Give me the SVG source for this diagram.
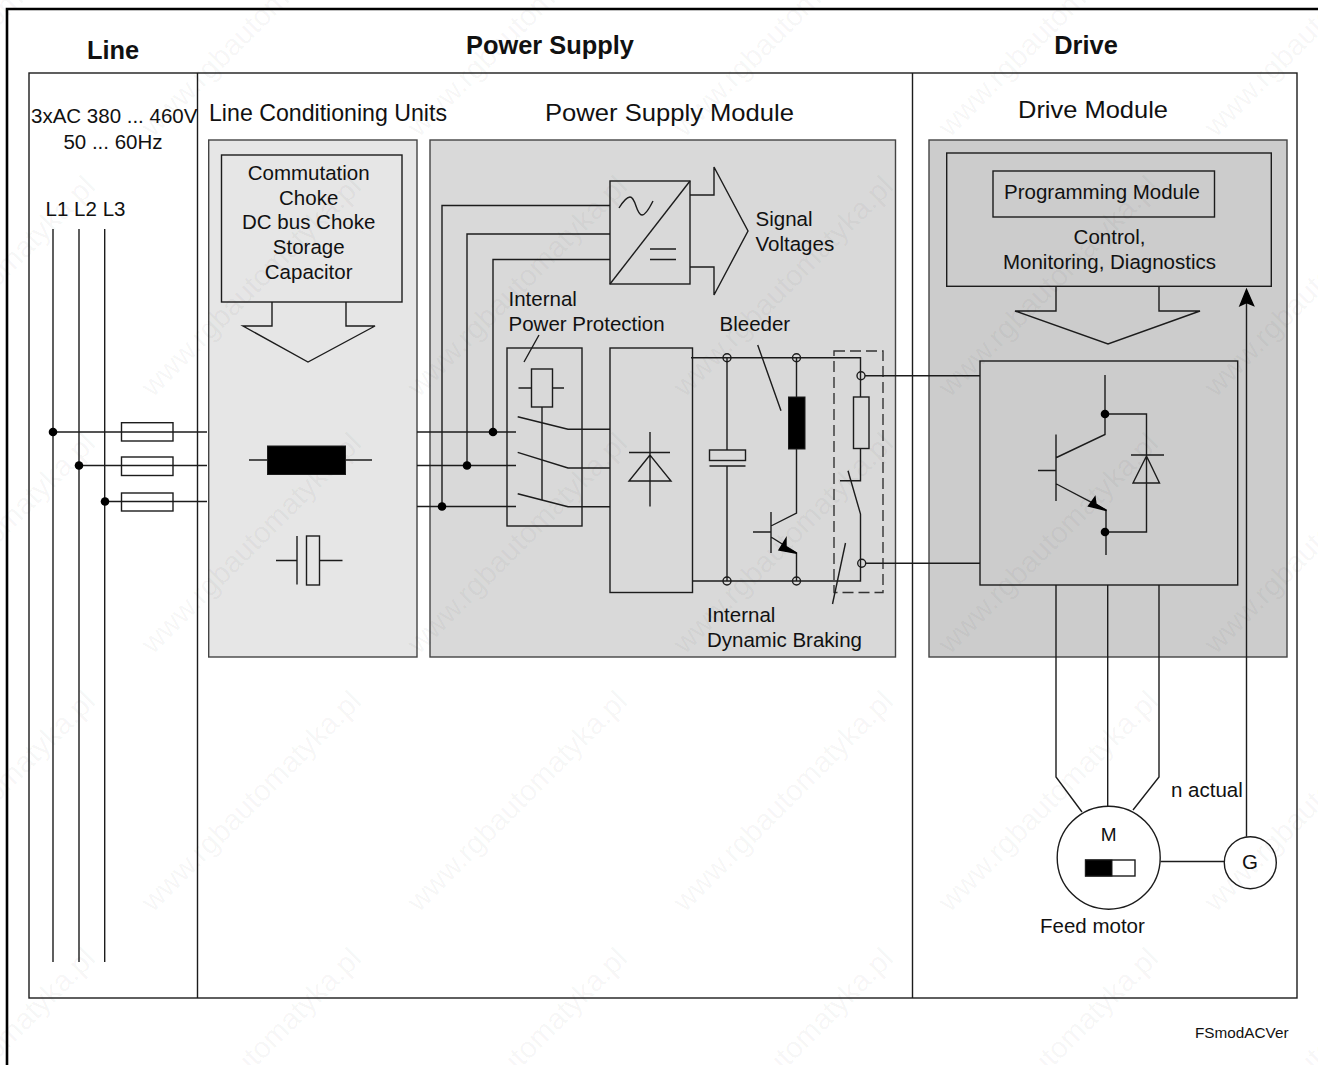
<svg xmlns="http://www.w3.org/2000/svg" width="1318" height="1065" viewBox="0 0 1318 1065">
<style>
text{font-family:"Liberation Sans",Arial,sans-serif;font-size:20.500px;fill:#111}
.b{font-weight:bold;font-size:25.400px}
.h{font-size:24px}
.m{text-anchor:middle}
.s{fill:none;stroke:#1c1c1c;stroke-width:1.4}
.w{fill:#fff;stroke:#1c1c1c;stroke-width:1.4}
.k{fill:#000;stroke:#1c1c1c;stroke-width:1}
.a{fill:#000;stroke:#000;stroke-width:1.4;stroke-linejoin:miter}
.wm{font-size:29.500px;fill:#000;fill-opacity:.045}
.dash{stroke-dasharray:11 5;stroke:#333}
</style>
<defs>
<g id="wmk"><text class="wm" transform="rotate(-45)">www.rgbautomatyka.pl</text></g>
</defs>
<rect width="1318" height="1065" fill="#fff"/>
<g id="page">
<path d="M1318 9H7V1065" fill="none" stroke="#000" stroke-width="2.6"/>
<rect class="s" x="29" y="73" width="1268" height="925"/>
<path class="s" d="M197.500 73V998M912.500 73V998"/>
<text class="b m" x="113" y="58.500">Line</text>
<text class="b m" x="550" y="53.500">Power Supply</text>
<text class="b m" x="1086" y="53.500">Drive</text>
</g>
<g id="line-section">
<text x="31" y="123">3xAC 380 ... 460V</text>
<text class="m" x="113" y="149">50 ... 60Hz</text>
<text x="45.500" y="216" textLength="80">L1 L2 L3</text>
</g>
<g id="line-conditioning">
<text class="h" x="209" y="121" textLength="238" lengthAdjust="spacingAndGlyphs">Line Conditioning Units</text>
<rect x="208.700" y="140" width="208.300" height="517" fill="#e6e6e6" stroke="#444" stroke-width="1.4"/>
<rect class="s" x="221.500" y="155" width="180.500" height="147"/>
<text class="m" x="308.700" y="180">Commutation</text>
<text class="m" x="308.700" y="205">Choke</text>
<text class="m" x="308.700" y="229">DC bus Choke</text>
<text class="m" x="308.700" y="254">Storage</text>
<text class="m" x="308.700" y="279">Capacitor</text>
<path class="s" d="M272 302V326H243L308 362L375 326H346V302"/>
<path class="s" d="M249 460H372"/>
<rect class="k" x="267.500" y="446" width="78" height="28.500"/>
<path class="s" d="M276 560.500H297M297 536V584.500M319.500 560.500H342.500"/>
<rect class="s" x="306.500" y="536" width="13" height="49"/>
</g>
<g id="power-supply-module">
<text class="h" x="545" y="121" textLength="249" lengthAdjust="spacingAndGlyphs">Power Supply Module</text>
<rect x="430" y="140" width="465.500" height="517" fill="#d9d9d9" stroke="#444" stroke-width="1.4"/>
<text x="755.500" y="226">Signal</text>
<text x="755.500" y="251">Voltages</text>
<text x="508.500" y="306">Internal</text>
<text x="508.500" y="331">Power Protection</text>
<text x="719.500" y="331">Bleeder</text>
<text x="707" y="622">Internal</text>
<text x="707" y="647">Dynamic Braking</text>
</g>
<g id="converter">
<rect class="s" x="610" y="181" width="80" height="103"/>
<path class="s" d="M610 284L690 181"/>
<path class="s" d="M619 208C624 200 627 197 630 197C636 197 636 215 642 215C646 215 650 207 653 201"/>
<path class="s" d="M650 249H676M650 259.500H676"/>
<path class="s" d="M690 195H714V167L748 231L714 295V267H690"/>
</g>
<g id="power-protection">
<rect class="s" x="507" y="348" width="75" height="178"/>
<rect class="s" x="531.500" y="369" width="21" height="38"/>
<path class="s" d="M518.500 388H531.500M552.500 388H564M542 407V500"/>
<path class="s" d="M517.700 416.700L568 429.300H610M517.700 452.300L568 468H610M517.700 493.700L568 506.700H610"/>
</g>
<g id="rectifier">
<rect class="s" x="610" y="348" width="82.500" height="244.500"/>
<path class="s" d="M650 432V506.500M629 452.500H670M650 455L629 481H671Z"/>
</g>
<g id="dc-link">
<path class="s" d="M691 357.700H860.500V397M692 581H860.500V514L848 470.700M860.500 448.500V480.700H840"/>
<path class="s" d="M727 358V450M727 466V581M709.500 466H745.500"/>
<rect class="s" x="709.500" y="450" width="36" height="10.500"/>
<path class="s" d="M796.500 358V397M796.500 449V513L771 526M771 512V553M753 532H771M771 537L796.500 553V581"/>
<rect class="k" x="788.500" y="397" width="16.500" height="52"/>
<path class="a" d="M796.800 553.300L779 550L786 538.500L786 547Z"/>
<circle class="s" cx="727" cy="357.700" r="4"/><circle class="s" cx="796.500" cy="357.700" r="4"/>
<circle class="s" cx="727" cy="581" r="4"/><circle class="s" cx="796.500" cy="581" r="4"/>
</g>
<g id="dynamic-braking">
<rect class="s dash" x="834" y="351" width="49" height="241.500"/>
<rect class="s" x="853.500" y="397" width="15.500" height="51.500"/>
<path class="s" d="M845.500 543L832.500 604"/>
<circle class="s" cx="861" cy="375.700" r="4"/><circle class="s" cx="861.700" cy="563.300" r="4"/>
</g>
<g id="drive-module">
<text class="h" x="1018" y="118" textLength="150" lengthAdjust="spacingAndGlyphs">Drive Module</text>
<rect x="929" y="140" width="358" height="517" fill="#ccc" stroke="#444" stroke-width="1.4"/>
<rect class="s" x="946.700" y="153" width="324.600" height="133.300"/>
<rect class="s" x="993" y="171" width="221.500" height="46"/>
<text x="1004" y="198.500">Programming Module</text>
<text class="m" x="1109.500" y="244">Control,</text>
<text class="m" x="1109.500" y="269">Monitoring, Diagnostics</text>
<path class="s" d="M1056 286V311H1015L1108 344L1200 311H1159V286"/>
</g>
<g id="inverter">
<rect class="s" x="980" y="361" width="257.700" height="224"/>
<path class="s" d="M1105 375V434.500L1056.500 457.500M1056 434.500V501M1038 470.500H1056M1056.500 484L1106 510V555"/>
<path class="s" d="M1105 414H1146.500V532H1105M1131 455H1164M1146.500 456L1133 483H1159.500Z"/>
<path class="a" d="M1106.500 510.500L1088.500 506L1095 497L1096 504Z"/>
<circle cx="1105" cy="414" r="4.300" fill="#000"/><circle cx="1105" cy="532" r="4.300" fill="#000"/>
</g>
<g id="motor">
<circle class="w" cx="1108.700" cy="857.700" r="51.500"/>
<text class="m" style="font-size:19px" x="1108.700" y="841">M</text>
<rect class="w" x="1085.500" y="860" width="49.500" height="16"/>
<rect class="k" x="1085.500" y="860" width="26.500" height="16"/>
<text x="1040" y="933">Feed motor</text>
</g>
<g id="tacho">
<circle class="w" cx="1250.300" cy="862.700" r="26"/>
<text class="m" x="1250" y="869">G</text>
</g>
<g id="connectors">
<path class="s" d="M53 229V962M79 229V962M104.700 229V962"/>
<path class="s" d="M53 432H207M79 465.500H207M105 501.500H207"/>
<rect class="s" x="121.500" y="422.700" width="51.500" height="18.300"/>
<rect class="s" x="121.500" y="457" width="51.500" height="18.500"/>
<rect class="s" x="121.500" y="493" width="51.500" height="18"/>
<circle cx="53" cy="432" r="4.300" fill="#000"/><circle cx="79" cy="465.500" r="4.300" fill="#000"/><circle cx="105" cy="501.500" r="4.300" fill="#000"/>
<path class="s" d="M417 432H516M417 465.500H516M417 506.500H516"/>
<path class="s" d="M442 506.500V205.500H610M467 465.500V234H610M493 432V259.500H610"/>
<circle cx="442" cy="506.500" r="4.300" fill="#000"/><circle cx="467" cy="465.500" r="4.300" fill="#000"/><circle cx="493" cy="432" r="4.300" fill="#000"/>
<path class="s" d="M757.700 345L781 410.700M539 335L524 362"/>
<path class="s" d="M865 375.700H980M865.700 563.300H980"/>
<path class="s" d="M1056 585V777L1082 812M1107.700 585V806M1159 585V777L1133 810"/>
<path class="s" d="M1160.500 861.500H1224M1246.500 836.700V303"/>
<path class="a" d="M1246.500 289.500L1253.500 305.500L1246.500 302.500L1240 305.500Z"/>
</g>
<text x="1171" y="797">n actual</text>
<text x="1195" y="1038" style="font-size:15.300px">FSmodACVer</text>
<g id="watermark">
<use href="#wmk" x="-113" y="138"/><use href="#wmk" x="153" y="138"/><use href="#wmk" x="419" y="138"/><use href="#wmk" x="685" y="138"/><use href="#wmk" x="950" y="138"/><use href="#wmk" x="1216" y="138"/>
<use href="#wmk" x="-113" y="398"/><use href="#wmk" x="153" y="398"/><use href="#wmk" x="419" y="398"/><use href="#wmk" x="685" y="398"/><use href="#wmk" x="950" y="398"/><use href="#wmk" x="1216" y="398"/>
<use href="#wmk" x="-113" y="655"/><use href="#wmk" x="153" y="655"/><use href="#wmk" x="419" y="655"/><use href="#wmk" x="685" y="655"/><use href="#wmk" x="950" y="655"/><use href="#wmk" x="1216" y="655"/>
<use href="#wmk" x="-113" y="913"/><use href="#wmk" x="153" y="913"/><use href="#wmk" x="419" y="913"/><use href="#wmk" x="685" y="913"/><use href="#wmk" x="950" y="913"/><use href="#wmk" x="1216" y="913"/>
<use href="#wmk" x="-113" y="1170"/><use href="#wmk" x="153" y="1170"/><use href="#wmk" x="419" y="1170"/><use href="#wmk" x="685" y="1170"/><use href="#wmk" x="950" y="1170"/><use href="#wmk" x="1216" y="1170"/>
</g>
</svg>
